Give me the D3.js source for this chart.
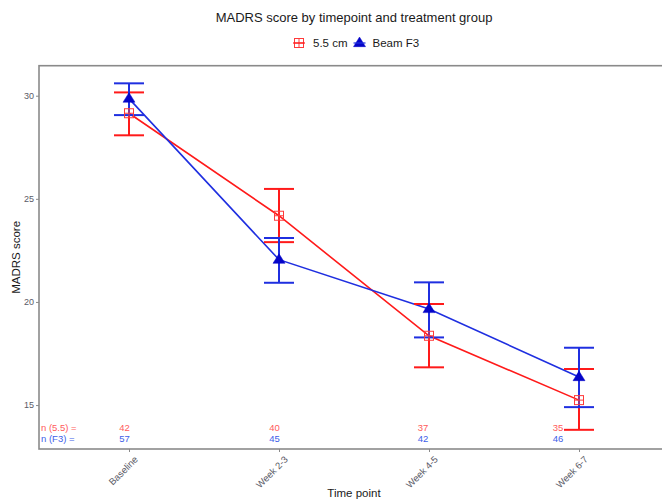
<!DOCTYPE html>
<html>
<head>
<meta charset="utf-8">
<script src="https://cdn.jsdelivr.net/npm/d3@7/dist/d3.min.js"></script>
<style>
  html, body { margin: 0; padding: 0; background: #fff; }
  svg { display: block; font-family: "Liberation Sans", Arial, sans-serif; }
</style>
</head>
<body>
<div id="chart"></div>
<script>
// ---------- data ----------
const timepoints = ["Baseline", "Week 2-3", "Week 4-5", "Week 6-7"];
const groupNames = ["5.5 cm", "Beam F3"];

const mean55  = [29.15, 24.18, 18.36, 15.24];
const lower55 = [28.08, 22.90, 16.83, 13.80];
const upper55 = [30.16, 25.48, 19.90, 16.75];

const meanF3  = [29.86, 22.05, 19.66, 16.36];
const lowerF3 = [29.06, 20.93, 18.28, 14.90];
const upperF3 = [30.60, 23.10, 20.95, 17.78];

const n55 = [42, 40, 37, 35];
const nF3 = [57, 45, 42, 46];
const nLabelX = [0.97, 1.97, 2.96, 3.86];   // annotation positions in category units
const nRowY = [13.93, 13.38];               // annotation rows in score units
const nRowLabels = ["n (5.5) =", "n (F3) ="];

const yTicks = [15, 20, 25, 30];

// ---------- layout ----------
const W = 662, H = 502;
const panel = { left: 39, top: 65.7, right: 669, bottom: 449 };

const svg = d3.select("#chart").append("svg")
  .attr("width", W).attr("height", H);
svg.append("rect").attr("width", W).attr("height", H).attr("fill", "#fff");

const x = d3.scaleLinear().domain([0.4, 4.6]).range([panel.left, panel.right]);
const y = d3.scaleLinear().domain([12.87, 31.455]).range([panel.bottom, panel.top]);

const RED = "#ff1a1a", BLUE = "#1f2fe0", BLUE_PT = "#0505c8";
const RED_TXT = "#ff5a5a", BLUE_TXT = "#4060e8";

const series = [
  { name: groupNames[0], mean: mean55, lo: lower55, hi: upper55, color: RED, shape: "square" },
  { name: groupNames[1], mean: meanF3, lo: lowerF3, hi: upperF3, color: BLUE, shape: "triangle" }
];

// panel frame
svg.append("rect")
  .attr("x", panel.left).attr("y", panel.top)
  .attr("width", panel.right - panel.left).attr("height", panel.bottom - panel.top)
  .attr("fill", "none").attr("stroke", "#8a8a8a").attr("stroke-width", 1.6);

// y axis
const yAxis = d3.axisLeft(y).tickValues(yTicks).tickSize(3).tickPadding(2);
const gy = svg.append("g").attr("transform", `translate(${panel.left},0)`).call(yAxis);
gy.select(".domain").remove();
gy.selectAll(".tick line").attr("stroke", "#8a8a8a").attr("stroke-width", 1);
gy.selectAll(".tick text").attr("fill", "#5a5a66").attr("font-size", "9px")
  .attr("font-family", "Liberation Sans, Arial, sans-serif");

// x axis
const xAxis = d3.axisBottom(x).tickValues(timepoints.map((d, i) => i + 1))
  .tickFormat((d) => timepoints[d - 1]).tickSize(3).tickPadding(2);
const gx = svg.append("g").attr("transform", `translate(0,${panel.bottom})`).call(xAxis);
gx.select(".domain").remove();
gx.selectAll(".tick line").attr("stroke", "#8a8a8a").attr("stroke-width", 1);
gx.selectAll(".tick text")
  .attr("fill", "#5a5a66").attr("font-size", "9.5px")
  .attr("font-family", "Liberation Sans, Arial, sans-serif")
  .attr("text-anchor", "end")
  .attr("dy", null).attr("y", null)
  .attr("transform", "translate(4,6) rotate(-45)")
  .attr("dominant-baseline", "hanging");

// lines
const lineGen = d3.line().x((d, i) => x(i + 1)).y((d) => y(d));
series.forEach((s) => {
  svg.append("path").datum(s.mean).attr("d", lineGen)
    .attr("fill", "none").attr("stroke", s.color).attr("stroke-width", 1.6);
});

// error bars
const capHalf = (x(1.1) - x(1));
series.forEach((s) => {
  const g = svg.append("g").attr("stroke", s.color).attr("stroke-width", 2).attr("fill", "none");
  s.mean.forEach((m, i) => {
    const cx = x(i + 1);
    g.append("line").attr("x1", cx).attr("x2", cx).attr("y1", y(s.lo[i])).attr("y2", y(s.hi[i]));
    g.append("line").attr("x1", cx - capHalf).attr("x2", cx + capHalf).attr("y1", y(s.lo[i])).attr("y2", y(s.lo[i]));
    g.append("line").attr("x1", cx - capHalf).attr("x2", cx + capHalf).attr("y1", y(s.hi[i])).attr("y2", y(s.hi[i]));
  });
});

// points
function drawSquare(g, cx, cy, r, color) {
  g.append("rect").attr("x", cx - r).attr("y", cy - r).attr("width", 2 * r).attr("height", 2 * r)
    .attr("fill", "none").attr("stroke", color).attr("stroke-width", 1);
  g.append("line").attr("x1", cx - r).attr("x2", cx + r).attr("y1", cy).attr("y2", cy)
    .attr("stroke", color).attr("stroke-width", 1);
  g.append("line").attr("x1", cx).attr("x2", cx).attr("y1", cy - r).attr("y2", cy + r)
    .attr("stroke", color).attr("stroke-width", 1);
}
function drawTriangle(g, cx, cy, r, color) {
  const h = r * 1.6;
  g.append("path")
    .attr("d", `M${cx},${cy - h * 0.62} L${cx + r},${cy + h * 0.38} L${cx - r},${cy + h * 0.38} Z`)
    .attr("fill", color).attr("stroke", color).attr("stroke-width", 0.5);
}
series.forEach((s) => {
  const g = svg.append("g");
  s.mean.forEach((m, i) => {
    if (s.shape === "square") drawSquare(g, x(i + 1), y(m), 4.5, "#ff3a3a");
    else drawTriangle(g, x(i + 1), y(m), 6, BLUE_PT);
  });
});

// n annotations
const nRows = [n55, nF3];
const nColors = [RED_TXT, BLUE_TXT];
nRows.forEach((row, r) => {
  svg.append("text")
    .attr("x", panel.left + 2).attr("y", y(nRowY[r]))
    .attr("dominant-baseline", "central")
    .attr("font-size", "9.5px").attr("fill", nColors[r])
    .text(nRowLabels[r]);
  row.forEach((v, i) => {
    svg.append("text")
      .attr("x", x(nLabelX[i])).attr("y", y(nRowY[r]))
      .attr("text-anchor", "middle").attr("dominant-baseline", "central")
      .attr("font-size", "9.5px").attr("fill", nColors[r])
      .text(v);
  });
});

// titles
const cxPanel = (panel.left + panel.right) / 2;
svg.append("text").attr("x", cxPanel).attr("y", 22)
  .attr("text-anchor", "middle").attr("font-size", "13px").attr("fill", "#1a1a1a")
  .text("MADRS score by timepoint and treatment group");

svg.append("text").attr("x", cxPanel).attr("y", 497)
  .attr("text-anchor", "middle").attr("font-size", "11.5px").attr("fill", "#1a1a1a")
  .text("Time point");

svg.append("text")
  .attr("transform", `translate(20,${(panel.top + panel.bottom) / 2}) rotate(-90)`)
  .attr("text-anchor", "middle").attr("font-size", "11.5px").attr("fill", "#1a1a1a")
  .text("MADRS score");

// legend
const leg = svg.append("g").attr("transform", "translate(0,43)");
let lx = 299;
drawSquare(leg, lx, 0, 4.5, "#ff3a3a");
leg.append("line").attr("x1", lx - 6).attr("x2", lx + 6).attr("y1", 0).attr("y2", 0)
  .attr("stroke", RED).attr("stroke-width", 1.2);
const t1 = leg.append("text").attr("x", lx + 14).attr("y", 0).attr("dominant-baseline", "central")
  .attr("font-size", "11.5px").attr("fill", "#1a1a1a").text(groupNames[0]);
const lx2 = lx + 14 + t1.node().getComputedTextLength() + 12;
drawTriangle(leg, lx2, 0, 6, BLUE_PT);
leg.append("line").attr("x1", lx2 - 6).attr("x2", lx2 + 6).attr("y1", 0).attr("y2", 0)
  .attr("stroke", BLUE).attr("stroke-width", 1.2);
leg.append("text").attr("x", lx2 + 13).attr("y", 0).attr("dominant-baseline", "central")
  .attr("font-size", "11.5px").attr("fill", "#1a1a1a").text(groupNames[1]);
</script>
</body>
</html>
